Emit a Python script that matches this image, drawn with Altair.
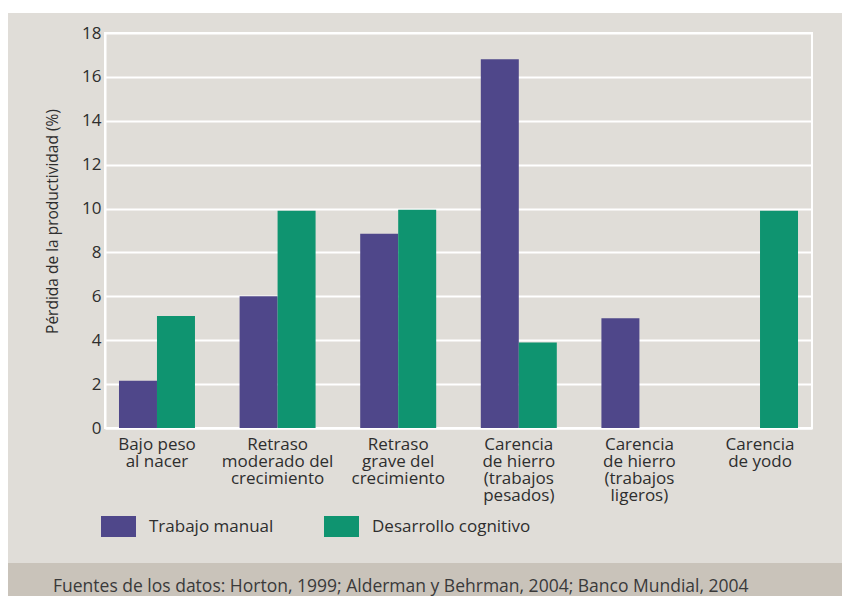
import altair as alt
import pandas as pd

categories = [
    "Bajo peso|al nacer",
    "Retraso|moderado del|crecimiento",
    "Retraso|grave del|crecimiento",
    "Carencia|de hierro|(trabajos|pesados)",
    "Carencia|de hierro|(trabajos|ligeros)",
    "Carencia|de yodo",
]
series = ["Trabajo manual", "Desarrollo cognitivo"]
trabajo_manual = [2.15, 6.0, 8.85, 16.8, 5.0, 0.0]
desarrollo_cognitivo = [5.1, 9.9, 9.95, 3.9, 0.0, 9.9]
colors = ["#4f478a", "#0f9470"]
y_ticks = [0, 2, 4, 6, 8, 10, 12, 14, 16, 18]
source_text = "Fuentes de los datos: Horton, 1999; Alderman y Behrman, 2004; Banco Mundial, 2004"

rows = []
for i, c in enumerate(categories):
    rows.append({"cat": c, "serie": series[0], "val": trabajo_manual[i]})
    rows.append({"cat": c, "serie": series[1], "val": desarrollo_cognitivo[i]})
df = pd.DataFrame(rows)

FONT = "Open Sans"
TXT = "#2e2e2e"

bars = alt.Chart(df).mark_bar().encode(
    x=alt.X(
        "cat:N",
        sort=categories,
        scale=alt.Scale(paddingInner=0.37, paddingOuter=0.116),
        axis=alt.Axis(
            title=None,
            labelAngle=0,
            labelExpr="split(datum.label, '|')",
            labelFontSize=17,
            labelLineHeight=17,
            labelPadding=8,
            labelColor=TXT,
            labelFont=FONT,
            ticks=False,
            domain=True,
            domainColor="white",
            domainWidth=2,
            grid=False,
            labelBaseline="top",
        ),
    ),
    xOffset=alt.XOffset("serie:N", sort=series, scale=alt.Scale(paddingInner=0, paddingOuter=0)),
    y=alt.Y(
        "val:Q",
        scale=alt.Scale(domain=[0, 18], nice=False),
        axis=alt.Axis(
            values=y_ticks,
            title="Pérdida de la productividad (%)",
            titleFont=FONT,
            titleFontSize=15.5,
            titleFontWeight="normal",
            titleColor=TXT,
            titlePadding=21,
            titleY=188,
            labelFontSize=17,
            labelColor=TXT,
            labelFont=FONT,
            labelPadding=4,
            ticks=False,
            domain=True,
            domainColor="white",
            domainWidth=2,
            grid=True,
            gridColor="white",
            gridWidth=2,
            gridOpacity=1,
        ),
    ),
    color=alt.Color(
        "serie:N",
        sort=series,
        scale=alt.Scale(domain=series, range=colors),
        legend=alt.Legend(
            title=None,
            orient="none",
            direction="horizontal",
            legendX=-4,
            legendY=476,
            symbolType="M-1,-0.6L1,-0.6L1,0.6L-1,0.6Z",
            symbolSize=1225,
            symbolStrokeWidth=0,
            symbolOpacity=1,
            labelFontSize=17,
            labelFont=FONT,
            labelColor=TXT,
            labelOffset=13,
            columnPadding=50,
        ),
    ),
)

band = alt.Chart(alt.Data(values=[{}])).mark_rect(color="#c9c3ba").encode(
    x=alt.value(-100), x2=alt.value(745), y=alt.value(530), y2=alt.value(570)
)
top_strip = alt.Chart(alt.Data(values=[{}])).mark_rect(color="white").encode(
    x=alt.value(-100), x2=alt.value(745), y=alt.value(-30), y2=alt.value(-20)
)
source = alt.Chart(alt.Data(values=[{"t": source_text}])).mark_text(
    align="left", baseline="alphabetic", fontSize=17.5, font=FONT, color="#3a3a3a"
).encode(x=alt.value(-52), y=alt.value(559), text="t:N")

chart = alt.layer(band, top_strip, bars, source).properties(
    width=707,
    height=395,
    autosize=alt.AutoSizeParams(type="none"),
    padding={"left": 97, "top": 25, "right": 30, "bottom": 168},
    background="#e0ddd8",
).configure_view(stroke="white", strokeWidth=2, fill=None)

chart.save("out.html", embed_options={"renderer": "svg", "actions": False})
